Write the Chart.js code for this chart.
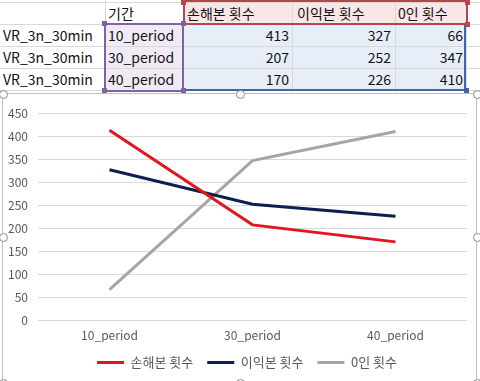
<!DOCTYPE html>
<html><head><meta charset="utf-8">
<script src="https://cdn.jsdelivr.net/npm/chart.js@4/dist/chart.umd.min.js"></script>
<style>
html,body{margin:0;padding:0;width:480px;height:381px;overflow:hidden;background:#fff;}
.a{position:absolute;box-sizing:border-box;}
.t{position:absolute;font-family:"Noto Sans CJK KR","Noto Sans",sans-serif;font-size:14px;color:#111;line-height:22px;height:22px;white-space:nowrap;}
#frame{position:absolute;left:2px;top:93px;width:475px;height:290px;border:1px solid #BFBFBF;box-sizing:border-box;background:#fff;}
#c{position:absolute;left:4px;top:96px;}
.h{position:absolute;width:9px;height:9px;border-radius:50%;border:1px solid #8A8A8A;background:#fff;box-sizing:border-box;}
</style></head>
<body>
<div id="sheet"></div>
<div id="frame"></div>
<canvas id="c" width="486" height="283"></canvas>
<div id="handles"></div>
<script>
// ---- data ----
const categories = ['10_period', '30_period', '40_period'];
const seriesNames = ['손해본 횟수', '이익본 횟수', '0인 횟수'];
const lossCounts = [413, 207, 170];
const profitCounts = [327, 252, 226];
const zeroCounts = [66, 347, 410];
const rowLabels = ['VR_3n_30min', 'VR_3n_30min', 'VR_3n_30min'];
const periodHeader = '기간';
const yMin = 0, yMax = 450, yStep = 50;

// ---- sheet (table) ----
const sheet = document.getElementById('sheet');
function el(cls, style, text) {
  const d = document.createElement('div');
  d.className = cls;
  d.setAttribute('style', style);
  if (text !== undefined) d.textContent = text;
  sheet.appendChild(d);
  return d;
}
const colX = [0, 105, 183, 292, 395, 466];
const rowY = [2, 24, 46, 68, 90];
// fills
el('a', `left:183px;top:2px;width:283px;height:22px;background:#F9E7E7;`);
el('a', `left:105px;top:24px;width:78px;height:66px;background:#EFEAF4;`);
el('a', `left:183px;top:24px;width:283px;height:66px;background:#E7EEF8;`);
// grid lines
rowY.forEach(y => el('a', `left:0;top:${y}px;width:480px;height:1px;background:#D9D9D9;`));
colX.slice(1).forEach(x => el('a', `left:${x}px;top:0;width:1px;height:92px;background:#D9D9D9;`));
// texts
el('t', `left:108px;top:2px;`, periodHeader);
const headX = [187, 297, 398];
seriesNames.forEach((n, i) => el('t', `left:${headX[i]}px;top:2px;`, n));
const valueRight = [289, 391, 463];
const cols = [lossCounts, profitCounts, zeroCounts];
for (let r = 0; r < 3; r++) {
  const top = rowY[r + 1];
  el('t', `left:3px;top:${top}px;`, rowLabels[r]);
  el('t', `left:108px;top:${top}px;`, categories[r]);
  cols.forEach((c, i) => el('t', `right:${480 - valueRight[i]}px;top:${top}px;text-align:right;`, String(c[r])));
}
// selection borders
el('a', `left:183px;top:0px;width:285px;height:25px;border:2px solid #B8444E;`);
el('a', `left:104px;top:23px;width:80px;height:69px;border:2px solid #7E62A3;`);
el('a', `left:186px;top:89px;width:281px;height:2px;background:#3E66AD;`);
el('a', `left:464px;top:25px;width:2px;height:66px;background:#3E66AD;`);
// corner squares
[[181,0,'#B8444E'],[465,0,'#B8444E'],[465,22,'#B8444E'],
 [102,21,'#7E62A3'],[181,21,'#7E62A3'],[102,88,'#7E62A3'],[181,88,'#7E62A3'],
 [464,88,'#3E66AD']].forEach(([x,y,c]) => el('a', `left:${x}px;top:${y}px;width:5px;height:5px;background:${c};`));

// handles on chart frame
const hd = document.getElementById('handles');
[[3,94],[240,94],[477,94],[3,237],[477,237],[3,383],[240,383],[477,383]].forEach(([x,y]) => {
  const d = document.createElement('div');
  d.className = 'h';
  d.style.left = (x - 4.5) + 'px';
  d.style.top = (y - 4.5) + 'px';
  hd.appendChild(d);
});

// ---- chart ----
const FONT = '"Noto Sans CJK KR", "Noto Sans", sans-serif';
function draw() {
  new Chart(document.getElementById('c'), {
    type: 'line',
    data: {
      labels: categories,
      datasets: [
        { label: seriesNames[0], data: lossCounts, borderColor: '#E3161E', backgroundColor: '#E3161E', borderWidth: 3, pointRadius: 0, tension: 0 },
        { label: seriesNames[1], data: profitCounts, borderColor: '#0C1F50', backgroundColor: '#0C1F50', borderWidth: 3, pointRadius: 0, tension: 0 },
        { label: seriesNames[2], data: zeroCounts, borderColor: '#A5A5A5', backgroundColor: '#A5A5A5', borderWidth: 3, pointRadius: 0, tension: 0 }
      ]
    },
    options: {
      responsive: false,
      animation: false,
      devicePixelRatio: 1,
      layout: { padding: { left: 0, right: 0, top: 12, bottom: 0 } },
      plugins: {
        tooltip: { enabled: false },
        legend: {
          position: 'bottom',
          labels: {
            usePointStyle: true,
            pointStyle: 'line',
            pointStyleWidth: 27,
            padding: 14,
            color: '#595959',
            font: { family: FONT, size: 13 }
          }
        }
      },
      scales: {
        x: {
          offset: true,
          grid: { display: false, drawTicks: false },
          border: { display: false },
          ticks: { padding: 8, color: '#595959', font: { family: FONT, size: 12 }, maxRotation: 0 },
          afterFit(s) { s.height = 22; }
        },
        y: {
          min: yMin, max: yMax,
          grid: { color: '#D9D9D9', drawTicks: false, lineWidth: 1 },
          border: { display: false },
          ticks: { stepSize: yStep, padding: 10, color: '#595959', font: { family: FONT, size: 12 } },
          afterFit(s) { s.width = 34; }
        },
        y2: {
          position: 'right',
          grid: { display: false, drawTicks: false },
          border: { display: false },
          ticks: { display: false },
          afterFit(s) { s.width = 23; }
        }
      }
    }
  });
}
if (document.fonts && document.fonts.load) {
  document.fonts.load('12px "Noto Sans CJK KR"').then(draw, draw);
} else draw();
</script>
</body></html>
